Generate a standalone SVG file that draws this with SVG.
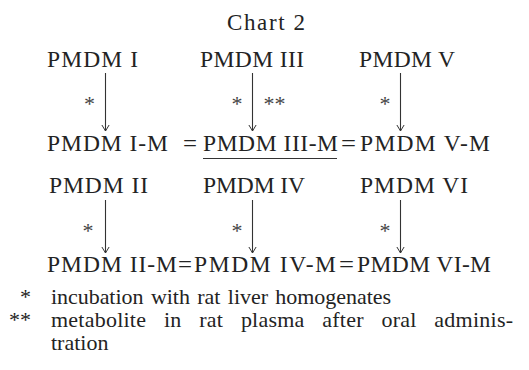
<svg xmlns="http://www.w3.org/2000/svg" width="529" height="370" viewBox="0 0 529 370">
  <style>
    text { font-family: "Liberation Serif", "Times New Roman", serif; fill: #232323; }
    .t { font-size: 23.5px; }
    .title { font-size: 23px; }
    .star { font-size: 22px; text-anchor: middle; fill: #444; }
    .note { font-size: 22px; }
    .conn { stroke: #333; stroke-width: 1.1; fill: none; }
  </style>
  <defs>
    <marker id="ah" markerUnits="userSpaceOnUse" markerWidth="12" markerHeight="12" refX="0" refY="0" orient="auto" overflow="visible">
      <path d="M-6,-3.6 L0,0 L-6,3.6" fill="none" stroke="#333" stroke-width="1"/>
    </marker>
  </defs>
  <rect width="529" height="370" fill="#ffffff"/>

  <text class="title" x="227" y="30" textLength="78" lengthAdjust="spacing">Chart 2</text>

  <!-- parent compounds -->
  <g id="pmdm-1"><text class="t" x="47" y="67" textLength="91" lengthAdjust="spacing">PMDM I</text></g>
  <g id="pmdm-3"><text class="t" x="200" y="67" textLength="104" lengthAdjust="spacing">PMDM III</text></g>
  <g id="pmdm-5"><text class="t" x="359" y="67" textLength="96" lengthAdjust="spacing">PMDM V</text></g>

  <!-- metabolites, first row -->
  <g id="pmdm-1-m"><text class="t" x="47" y="151" textLength="121" lengthAdjust="spacing">PMDM I-M</text></g>
  <text class="t" x="183" y="151" textLength="14" lengthAdjust="spacingAndGlyphs">=</text>
  <g id="pmdm-3-m">
    <text class="t" x="203" y="151" textLength="135" lengthAdjust="spacing">PMDM III-M</text>
    <line x1="203" y1="158.5" x2="337" y2="158.5" stroke="#333" stroke-width="1.2"/>
  </g>
  <text class="t" x="341" y="151" textLength="15" lengthAdjust="spacingAndGlyphs">=</text>
  <g id="pmdm-5-m"><text class="t" x="360" y="151" textLength="130" lengthAdjust="spacing">PMDM V-M</text></g>

  <!-- parent compounds, second set -->
  <g id="pmdm-2"><text class="t" x="49" y="193" textLength="99" lengthAdjust="spacing">PMDM II</text></g>
  <g id="pmdm-4"><text class="t" x="203" y="193" textLength="102" lengthAdjust="spacing">PMDM IV</text></g>
  <g id="pmdm-6"><text class="t" x="360" y="193" textLength="108" lengthAdjust="spacing">PMDM VI</text></g>

  <!-- metabolites, second row -->
  <g id="pmdm-2-m"><text class="t" x="47" y="272" textLength="130" lengthAdjust="spacing">PMDM II-M</text></g>
  <text class="t" x="178" y="272" textLength="14" lengthAdjust="spacingAndGlyphs">=</text>
  <g id="pmdm-4-m"><text class="t" x="194" y="272" textLength="142" lengthAdjust="spacing">PMDM IV-M</text></g>
  <text class="t" x="339" y="272" textLength="15" lengthAdjust="spacingAndGlyphs">=</text>
  <g id="pmdm-6-m"><text class="t" x="357" y="272" textLength="134" lengthAdjust="spacing">PMDM VI-M</text></g>

  <!-- conversions -->
  <g id="connectors">
    <line class="conn" x1="105.5" y1="73" x2="105.5" y2="131" marker-end="url(#ah)"/>
    <line class="conn" x1="252.5" y1="73" x2="252.5" y2="131" marker-end="url(#ah)"/>
    <line class="conn" x1="400.5" y1="73" x2="400.5" y2="131" marker-end="url(#ah)"/>
    <line class="conn" x1="105.5" y1="200" x2="105.5" y2="253" marker-end="url(#ah)"/>
    <line class="conn" x1="252.5" y1="200" x2="252.5" y2="253" marker-end="url(#ah)"/>
    <line class="conn" x1="400.5" y1="200" x2="400.5" y2="253" marker-end="url(#ah)"/>
    <text class="star" x="89.5" y="111">*</text>
    <text class="star" x="237" y="111">*</text>
    <text class="star" x="274.5" y="111">**</text>
    <text class="star" x="385" y="111">*</text>
    <text class="star" x="88" y="238">*</text>
    <text class="star" x="237" y="238">*</text>
    <text class="star" x="385" y="238">*</text>
  </g>

  <!-- footnotes -->
  <text class="note" x="31" y="304" text-anchor="end">*</text>
  <text class="note" x="51" y="304" textLength="340" lengthAdjust="spacing" word-spacing="2">incubation with rat liver homogenates</text>
  <text class="note" x="31" y="327" text-anchor="end">**</text>
  <text class="note" x="51" y="327" textLength="462" lengthAdjust="spacing" word-spacing="12">metabolite in rat plasma after oral adminis-</text>
  <text class="note" x="51" y="350">tration</text>
</svg>
